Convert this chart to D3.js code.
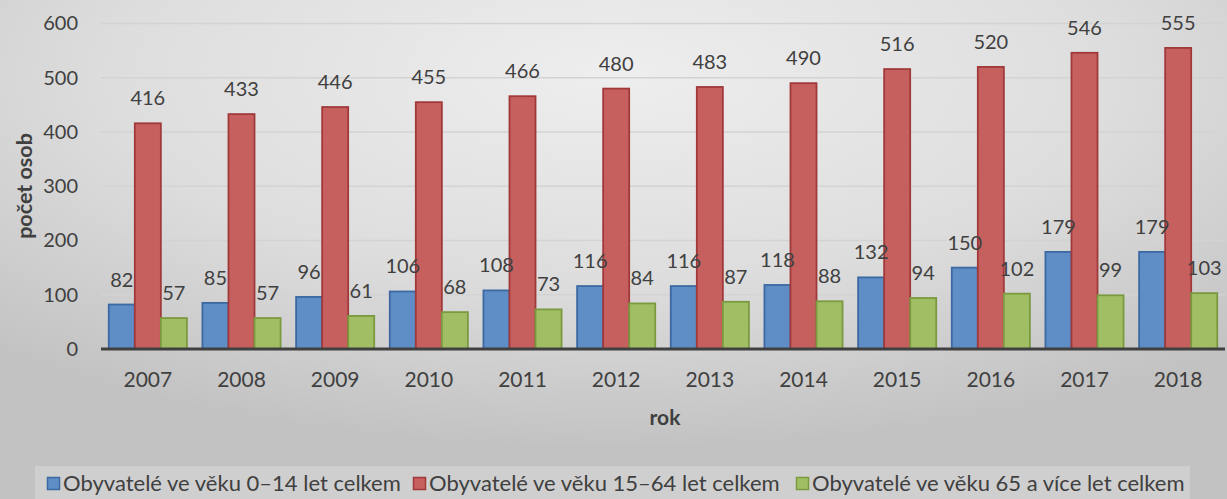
<!DOCTYPE html>
<html>
<head>
<meta charset="utf-8">
<style>
  body { margin: 0; background: #d6d6d6; }
  svg { display: block; font-family: Lato, "Open Sans", sans-serif; }
</style>
</head>
<body>
<svg width="1227" height="499"></svg>
<script src="https://cdn.jsdelivr.net/npm/d3@7"></script>
<script>
    // data
    var years = ["2007", "2008", "2009", "2010", "2011", "2012", "2013", "2014", "2015", "2016", "2017", "2018"];
    var kids = [82, 85, 96, 106, 108, 116, 116, 118, 132, 150, 179, 179];
    var adults = [416, 433, 446, 455, 466, 480, 483, 490, 516, 520, 546, 555];
    var seniors = [57, 57, 61, 68, 73, 84, 87, 88, 94, 102, 99, 103];
    var seriesNames = ["Obyvatelé ve věku 0–14 let celkem", "Obyvatelé ve věku 15–64 let celkem", "Obyvatelé ve věku 65 a více let celkem"];
    var yTicks = [0, 100, 200, 300, 400, 500, 600];

    var fills = ["#5f8dc5", "#c6605e", "#a1be64"],
        strokes = ["#3d69a2", "#a1393a", "#7b9a3f"];

    var svg = d3.select("svg"),
        W = +svg.attr("width"),
        H = +svg.attr("height");

    var margin = {top: 23, right: 2, bottom: 150, left: 101};

    // background
    var defs = svg.append("defs");
    var bg = defs.append("radialGradient")
        .attr("id", "bg")
        .attr("cx", "50%").attr("cy", "15%").attr("r", "75%");
    bg.append("stop").attr("offset", "0%").attr("stop-color", "#eeeeee");
    bg.append("stop").attr("offset", "55%").attr("stop-color", "#dddddd");
    bg.append("stop").attr("offset", "100%").attr("stop-color", "#c2c2c2");
    svg.append("rect").attr("width", W).attr("height", H).attr("fill", "url(#bg)");

    var x = d3.scaleBand()
        .domain(years)
        .range([margin.left, W - margin.right])
        .paddingInner(0.166)
        .paddingOuter(0.083);

    var x1 = d3.scaleBand()
        .domain([0, 1, 2])
        .range([0, x.bandwidth()]);

    var y = d3.scaleLinear()
        .domain([0, 600])
        .range([349, 23.5]);

    // gridlines
    svg.append("g")
        .selectAll("line")
        .data(yTicks.slice(1))
        .enter().append("line")
        .attr("x1", margin.left)
        .attr("x2", W - margin.right)
        .attr("y1", function (d) { return y(d); })
        .attr("y2", function (d) { return y(d); })
        .attr("stroke", "#d3d3d3")
        .attr("stroke-width", 1.5);

    // y axis labels
    var yAxis = svg.append("g")
        .attr("transform", "translate(" + (margin.left - 23) + ",0)")
        .call(d3.axisLeft(y).tickValues(yTicks).tickSize(0).tickPadding(0));
    yAxis.select(".domain").remove();
    yAxis.selectAll("text")
        .attr("fill", "#404040")
        .style("font-size", "20px")
        .style("font-family", "Lato, sans-serif");

    var series = [kids, adults, seniors];

    var groups = svg.append("g")
        .selectAll("g")
        .data(series)
        .enter().append("g");

    groups.selectAll("rect")
        .data(function (vals, i) {
            return vals.map(function (v, j) { return {s: i, year: years[j], v: v}; });
        })
        .enter().append("rect")
        .attr("x", function (d) { return x(d.year) + x1(d.s); })
        .attr("y", function (d) { return y(d.v); })
        .attr("width", x1.bandwidth())
        .attr("height", function (d) { return y(0) - y(d.v); })
        .attr("fill", function (d) { return fills[d.s]; })
        .attr("stroke", function (d) { return strokes[d.s]; })
        .attr("stroke-width", 1.8);

    // zero line
    svg.append("line")
        .attr("x1", margin.left)
        .attr("x2", W - margin.right)
        .attr("y1", y(0))
        .attr("y2", y(0))
        .attr("stroke", "#404040")
        .attr("stroke-width", 3);

    // data labels (on top of every bar)
    var labels = svg.append("g");
    series.forEach(function (vals, i) {
        labels.selectAll("text.s" + i)
            .data(vals)
            .enter().append("text")
            .attr("class", "s" + i)
            .attr("x", function (d, j) { return x(years[j]) + x1(i) + x1.bandwidth() / 2; })
            .attr("y", function (d) { return y(d) - 18; })
            .attr("text-anchor", "middle")
            .attr("fill", "#404040")
            .style("font-size", "20px")
            .text(function (d) { return d; });
    });

    // x axis labels
    var xAxis = svg.append("g")
        .attr("transform", "translate(0," + 372 + ")")
        .call(d3.axisBottom(x).tickSize(0).tickPadding(0));
    xAxis.select(".domain").remove();
    xAxis.selectAll("text")
        .attr("fill", "#404040")
        .attr("dy", "0.72em")
        .style("font-size", "21px")
        .style("font-family", "Lato, sans-serif");

    // axis titles
    svg.append("text")
        .attr("x", (margin.left + W - margin.right) / 2 + 2)
        .attr("y", 425)
        .attr("text-anchor", "middle")
        .attr("fill", "#404040")
        .style("font-size", "21px")
        .style("font-weight", "bold")
        .text("rok");

    svg.append("text")
        .attr("transform", "translate(32,186) rotate(-90)")
        .attr("text-anchor", "middle")
        .attr("fill", "#404040")
        .style("font-size", "21.5px")
        .style("font-weight", "bold")
        .text("počet osob");

    // legend
    svg.append("rect")
        .attr("x", 35)
        .attr("y", 466)
        .attr("width", 1155)
        .attr("height", 33)
        .attr("fill", "#ffffff")
        .attr("fill-opacity", 0.22);

    var legendX = [47, 413, 796];
    var leg = svg.append("g")
        .selectAll("g")
        .data(seriesNames)
        .enter().append("g")
        .attr("transform", function (d, i) { return "translate(" + legendX[i] + ",477)"; });
    leg.append("rect")
        .attr("x", 0.5)
        .attr("y", 0.5)
        .attr("width", 12)
        .attr("height", 12)
        .attr("fill", function (d, i) { return fills[i]; })
        .attr("stroke", function (d, i) { return strokes[i]; })
        .attr("stroke-width", 1.5);
    leg.append("text")
        .attr("x", 16)
        .attr("y", 14)
        .attr("fill", "#404040")
        .style("font-size", "22px")
        .text(function (d) { return d; });
</script>
</body>
</html>
